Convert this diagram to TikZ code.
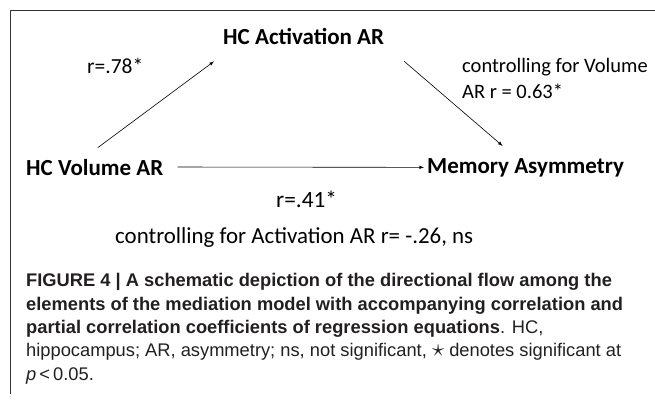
\documentclass[tikz,border=0pt]{standalone}
\usepackage{fontspec}
\setmainfont{Carlito}
\newfontfamily\capfont{Liberation Sans}
\definecolor{capgray}{HTML}{231F20}
\begin{document}
\begin{tikzpicture}[x=1pt,y=-1pt,
		var/.style={anchor=base west, inner sep=0pt, font=\fontsize{23}{27}\selectfont\bfseries},
		coef/.style={anchor=base west, inner sep=0pt, font=\fontsize{20.5}{25.6}\selectfont, align=left}]
			\useasboundingbox (0,0) rectangle (655,401);
			\draw [line width=0.8pt, black!80] (10,394) -- (10,10) -- (655,10);
			% the three variables
			\node [var] (act) at (223,45) {HC Activation AR};
			\node [var] (vol) at (26,175) {HC Volume AR};
			\node [var] (mem) at (427,173) {Memory Asymmetry};
			% paths
			\draw [-latex, line width=0.6pt] ([xshift=3pt,yshift=11pt]vol.north) -- ([xshift=-9pt,yshift=-16pt]act.south west);
			\draw [-latex, line width=0.6pt] ([xshift=20pt,yshift=-16pt]act.south east) -- ([xshift=-23pt,yshift=12pt]mem.north);
			\draw [-latex, line width=0.6pt] ([xshift=14pt]vol.east) -- ([xshift=-3pt]mem.west);
			% coefficients (base = last line)
			\node [coef, font=\fontsize{21.5}{25.6}\selectfont] (r78) at (87,74) {r=.78*};
			\node [coef] (ctrlvol) at (462,98.3) {controlling for Volume\\AR r = 0.63*};
			\node [coef, font=\fontsize{23.3}{28}\selectfont] (r41) at (276,207) {r=.41*};
			\node [coef, font=\fontsize{22.9}{28}\selectfont] (ctrlact) at (115,243) {controlling for Activation AR r= -.26, ns};
			% caption
			\node [anchor=base west, inner sep=0pt, align=left, text=capgray, font=\capfont\fontsize{18.3}{23.3}\selectfont] (caption) at (26,380)
				{\textbf{FIGURE 4 | A schematic depiction of the directional flow among the}\\
				\textbf{elements of the mediation model with accompanying correlation and}\\
				\textbf{partial correlation coefficients of regression equations}. HC,\\
				hippocampus; AR, asymmetry; ns, not significant, {\fontsize{26}{23.3}\selectfont$\star$} denotes significant at\\
				\textit{p}\,<\,0.05.};
		\end{tikzpicture}
\end{document}
